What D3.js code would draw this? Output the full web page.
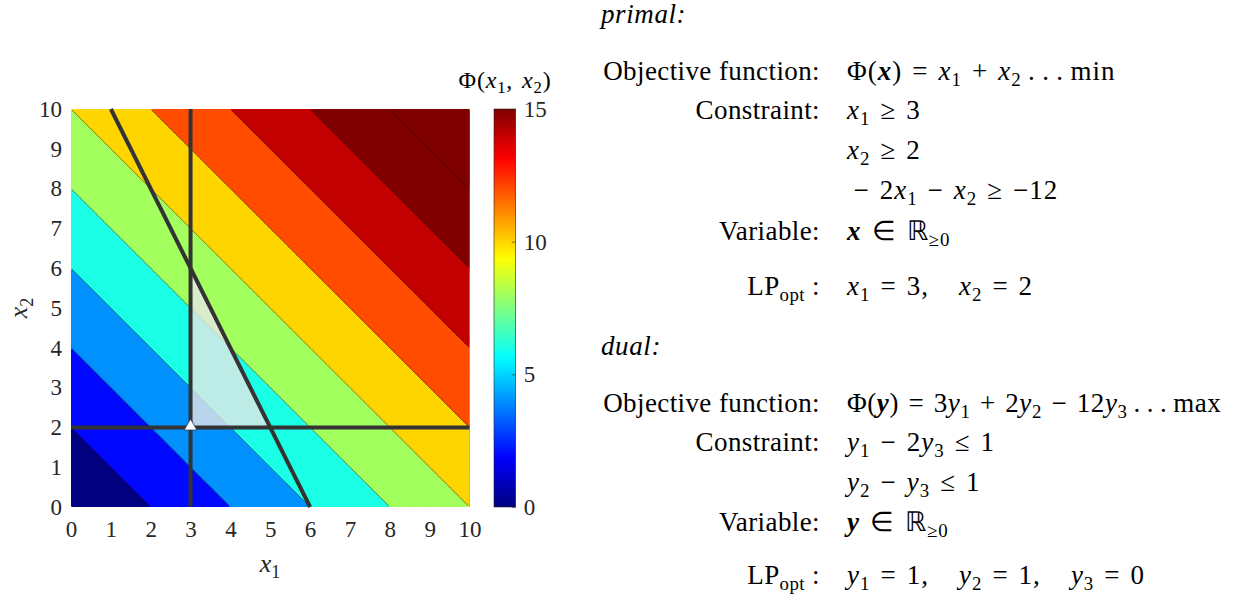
<!DOCTYPE html>
<html>
<head>
<meta charset="utf-8">
<script src="https://cdn.jsdelivr.net/npm/d3@7"></script>
<style>
    body { margin: 0; background: #fff; }
    svg { display: block; font-family: "Liberation Serif", "Times New Roman", serif; }
    text { white-space: pre; }
</style>
</head>
<body>
<svg id="chart" width="1237" height="594"></svg>
<script>
// ---- data ----
const x1Ticks = [0, 1, 2, 3, 4, 5, 6, 7, 8, 9, 10];
const x2Ticks = [0, 1, 2, 3, 4, 5, 6, 7, 8, 9, 10];
const colorbarTicks = [0, 5, 10, 15];
const colorLimits = [0, 15];
const contourLevels = [0, 2, 4, 6, 8, 10, 12, 14, 16, 18, 20];
const objective = [1, 1];                 // Phi(x) = x1 + x2
const constraintLines = [                 // x1 = 3, x2 = 2, -2x1 - x2 = -12
    [[3, 0], [3, 10]],
    [[0, 2], [10, 2]],
    [[1, 10], [6, 0]]
];
const feasibleRegion = [[3, 2], [3, 6], [5, 2]];
const optimum = [3, 2];

const svg = d3.select("#chart");

// plot box
const plotLeft = 71, plotRight = 469.5, plotTop = 109, plotBottom = 507;
const xScale = d3.scaleLinear().domain([0, 10]).range([plotLeft, plotRight]);
const yScale = d3.scaleLinear().domain([0, 10]).range([plotBottom, plotTop]);

// MATLAB jet
function jet(t) {
    const c = v => Math.max(0, Math.min(1, v));
    const r = c(Math.min(4 * t - 1.5, -4 * t + 4.5));
    const g = c(Math.min(4 * t - 0.5, -4 * t + 3.5));
    const b = c(Math.min(4 * t + 0.5, -4 * t + 2.5));
    return d3.rgb(r * 255, g * 255, b * 255).formatHex();
}
const color = d3.scaleSequential(jet).domain(colorLimits).clamp(true);

const defs = svg.append("defs");
defs.append("clipPath").attr("id", "plotclip").append("rect")
    .attr("x", plotLeft).attr("y", plotTop).attr("width", plotRight - plotLeft).attr("height", plotBottom - plotTop);
defs.append("clipPath").attr("id", "lineclip").append("rect")
    .attr("x", plotLeft + 1).attr("y", plotTop + 1).attr("width", plotRight - plotLeft - 2).attr("height", plotBottom - plotTop - 2);

// ---- filled contours of the objective ----
const N = 200;
const grid = new Array(N * N);
for (let j = 0; j < N; j++) {
    for (let i = 0; i < N; i++) {
        const x1 = (i + 0.5) * 10 / N, x2 = (j + 0.5) * 10 / N;
        grid[j * N + i] = objective[0] * x1 + objective[1] * x2;
    }
}
const contours = d3.contours().size([N, N]).thresholds(contourLevels)(grid);
const proj = d3.geoTransform({
    point(u, v) { this.stream.point(xScale(u * 10 / N), yScale(v * 10 / N)); }
});
const path = d3.geoPath(proj);

svg.append("g").attr("clip-path", "url(#plotclip)")
    .selectAll("path").data(contours).join("path")
    .attr("d", path)
    .attr("fill", d => color(d.value))
    .attr("stroke", d => color(d.value))
    .attr("stroke-width", 0.3);

svg.append("g").attr("clip-path", "url(#lineclip)")
    .selectAll("path").data(contours.filter(d => d.value > 0)).join("path")
    .attr("d", path)
    .attr("fill", "none")
    .attr("stroke", "#000")
    .attr("stroke-opacity", 0.75)
    .attr("stroke-width", 0.6);

// feasible region
svg.append("path")
    .datum(feasibleRegion)
    .attr("d", d => d3.line().x(p => xScale(p[0])).y(p => yScale(p[1]))(d) + "Z")
    .attr("fill", "#e6e6e6")
    .attr("fill-opacity", 0.8);

// constraint lines
svg.append("g").selectAll("line").data(constraintLines).join("line")
    .attr("x1", d => xScale(d[0][0])).attr("y1", d => yScale(d[0][1]))
    .attr("x2", d => xScale(d[1][0])).attr("y2", d => yScale(d[1][1]))
    .attr("stroke", "#333")
    .attr("stroke-width", 4);

// optimum marker
svg.append("path")
    .attr("d", d3.symbol(d3.symbolTriangle, 70)())
    .attr("transform", `translate(${xScale(optimum[0])},${yScale(optimum[1]) - 1})`)
    .attr("fill", "#fff")
    .attr("stroke", "#2a3a55")
    .attr("stroke-width", 0.8);

// ---- axes ----
const xAxis = svg.append("g")
    .attr("transform", `translate(0,${plotBottom})`)
    .call(d3.axisBottom(xScale).tickValues(x1Ticks).tickSize(0).tickPadding(14));
const yAxis = svg.append("g")
    .attr("transform", `translate(${plotLeft},0)`)
    .call(d3.axisLeft(yScale).tickValues(x2Ticks).tickSize(0).tickPadding(9));
[xAxis, yAxis].forEach(a => {
    a.select(".domain").remove();
    a.selectAll("text").attr("font-family", "Liberation Serif").attr("font-size", 23).attr("fill", "#262626");
});

// math text helper: segments of [text, style]; n normal, i italic, b bold italic, s subscript
// spaces inside formulas are widened to look like TeX math spacing
function mathText(sel, segs, size, wide) {
    let shifted = false;
    segs.forEach(([t, st]) => {
        const ts = sel.append("tspan").text(wide ? t.replace(/ /g, "\u2004") : t);
        if (st === "i") ts.attr("font-style", "italic");
        if (st === "b") ts.attr("font-style", "italic").attr("font-weight", "bold");
        if (st === "s") {
            ts.attr("font-size", size * 0.7);
            if (!shifted) { ts.attr("dy", size * 0.22); shifted = true; }
        } else if (shifted) {
            ts.attr("dy", -size * 0.22); shifted = false;
        }
    });
    return sel;
}

// axis labels
mathText(svg.append("text").attr("x", 270).attr("y", 572).attr("text-anchor", "middle")
    .attr("font-size", 26).attr("fill", "#262626"), [["x", "i"], ["1", "s"]], 26);
mathText(svg.append("text").attr("transform", "translate(27,308) rotate(-90)").attr("text-anchor", "middle")
    .attr("font-size", 26).attr("fill", "#262626"), [["x", "i"], ["2", "s"]], 26);

// ---- colorbar ----
const cbX = 494, cbW = 21.7;
const cbScale = d3.scaleLinear().domain(colorLimits).range([plotBottom, plotTop]);
const grad = defs.append("linearGradient").attr("id", "jetgrad")
    .attr("x1", 0).attr("y1", 1).attr("x2", 0).attr("y2", 0);
grad.selectAll("stop").data(d3.range(0, 1.0001, 0.02)).join("stop")
    .attr("offset", d => d)
    .attr("stop-color", d => jet(d));
svg.append("rect")
    .attr("x", cbX).attr("y", plotTop).attr("width", cbW).attr("height", plotBottom - plotTop)
    .attr("fill", "url(#jetgrad)")
    .attr("stroke", "#262626").attr("stroke-width", 0.6);
const cbAxis = svg.append("g")
    .attr("transform", `translate(${cbX + cbW},0)`)
    .call(d3.axisRight(cbScale).tickValues(colorbarTicks).tickSizeInner(-4).tickSizeOuter(0).tickPadding(8));
cbAxis.select(".domain").remove();
cbAxis.selectAll("line").attr("stroke", "#262626").attr("stroke-width", 0.6);
cbAxis.selectAll("text").attr("font-family", "Liberation Serif").attr("font-size", 23).attr("fill", "#262626");

mathText(svg.append("text").attr("x", 505).attr("y", 88).attr("text-anchor", "middle")
    .attr("font-size", 24).attr("letter-spacing", 0.8).attr("fill", "#000"),
    [["Φ(", "n"], ["x", "i"], ["1", "s"], [", ", "n"], ["x", "i"], ["2", "s"], [")", "n"]], 24, true);

// ---- primal / dual text panel ----
const fs = 27, labelX = 820, mathX = 847;
const panel = svg.append("g").attr("font-size", fs).attr("fill", "#000");

panel.append("text").attr("x", 601).attr("y", 23).attr("font-style", "italic").attr("letter-spacing", 0.6).text("primal:");
panel.append("text").attr("x", 601).attr("y", 355).attr("font-style", "italic").attr("letter-spacing", 0.6).text("dual:");

const rows = [
    { y: 80, label: [["Objective function:", "n"]],
      math: [["Φ(", "n"], ["x", "b"], [") = ", "n"], ["x", "i"], ["1", "s"], [" + ", "n"], ["x", "i"], ["2", "s"], ["\u2009.\u2009.\u2009.\u2009min", "n"]] },
    { y: 119, label: [["Constraint:", "n"]],
      math: [["x", "i"], ["1", "s"], [" ≥ 3", "n"]] },
    { y: 159, label: null,
      math: [["x", "i"], ["2", "s"], [" ≥ 2", "n"]] },
    { y: 199, label: null,
      math: [["\u2009− 2", "n"], ["x", "i"], ["1", "s"], [" − ", "n"], ["x", "i"], ["2", "s"], [" ≥ −12", "n"]] },
    { y: 240, label: [["Variable:", "n"]],
      math: [["x", "b"], [" ∈ ℝ", "n"], ["≥0", "s"]] },
    { y: 295, label: [["LP", "n"], ["opt", "s"], [" :", "n"]],
      math: [["x", "i"], ["1", "s"], [" = 3,   ", "n"], ["x", "i"], ["2", "s"], [" = 2", "n"]] },
    { y: 412, label: [["Objective function:", "n"]], spacing: 0.55,
      math: [["Φ(", "n"], ["y", "b"], [") = 3", "n"], ["y", "i"], ["1", "s"], [" + 2", "n"], ["y", "i"], ["2", "s"], [" − 12", "n"], ["y", "i"], ["3", "s"], ["\u2009.\u2009.\u2009.\u2009max", "n"]] },
    { y: 451, label: [["Constraint:", "n"]],
      math: [["y", "i"], ["1", "s"], [" − 2", "n"], ["y", "i"], ["3", "s"], [" ≤ 1", "n"]] },
    { y: 491, label: null,
      math: [["y", "i"], ["2", "s"], [" − ", "n"], ["y", "i"], ["3", "s"], [" ≤ 1", "n"]] },
    { y: 531, label: [["Variable:", "n"]],
      math: [["y", "b"], [" ∈ ℝ", "n"], ["≥0", "s"]] },
    { y: 584, label: [["LP", "n"], ["opt", "s"], [" :", "n"]],
      math: [["y", "i"], ["1", "s"], [" = 1,   ", "n"], ["y", "i"], ["2", "s"], [" = 1,   ", "n"], ["y", "i"], ["3", "s"], [" = 0", "n"]] }
];

rows.forEach(r => {
    if (r.label) mathText(panel.append("text").attr("x", labelX).attr("y", r.y).attr("text-anchor", "end")
        .attr("letter-spacing", 0.4), r.label, fs, false);
    mathText(panel.append("text").attr("x", mathX).attr("y", r.y)
        .attr("letter-spacing", r.spacing != null ? r.spacing : 1), r.math, fs, true);
});
</script>
</body>
</html>
